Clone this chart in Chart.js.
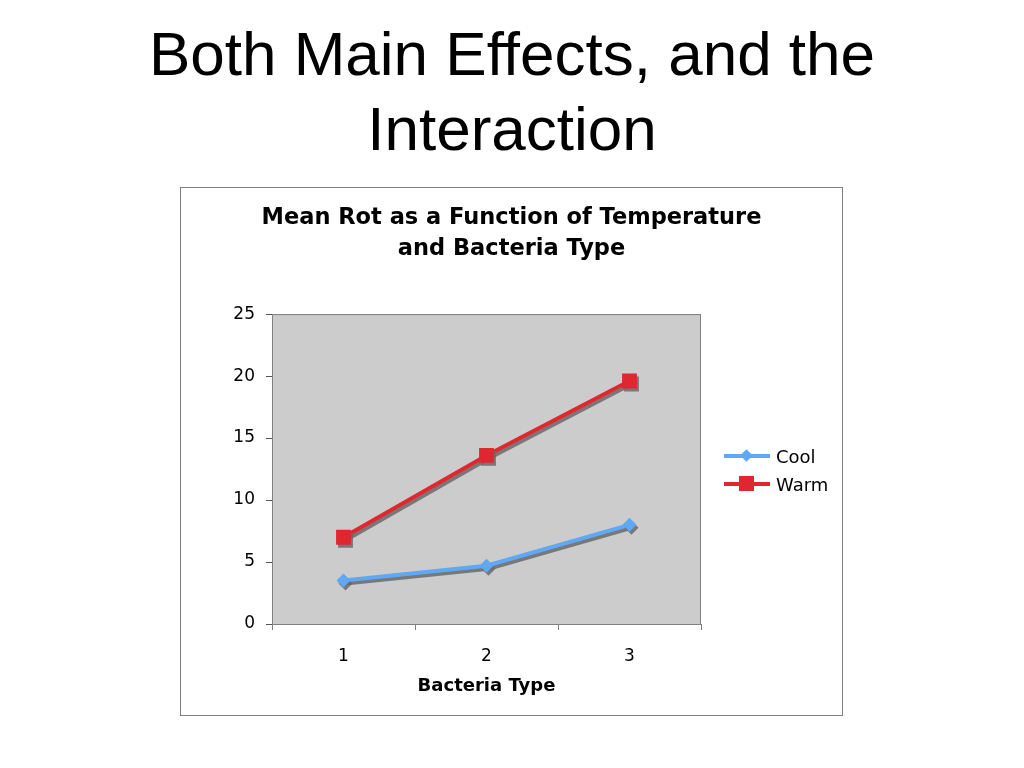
<!DOCTYPE html>
<html>
<head>
<meta charset="utf-8">
<script src="https://cdn.jsdelivr.net/npm/chart.js@4"></script>
<style>
  body { margin: 0; background: #fff; width: 1024px; height: 768px; position: relative; overflow: hidden; }
  #slideTitle {
    position: absolute; left: 0; top: 16px; width: 1024px; text-align: center;
    font-family: "Liberation Sans", Arial, sans-serif; font-size: 62px; line-height: 75px; color: #000;
  }
  #chartBox {
    position: absolute; left: 180px; top: 187px; width: 663px; height: 529px;
    border: 1px solid #808080; box-sizing: border-box;
  }
  #legend {
    position: absolute; left: 724px; top: 442px;
    font-family: "DejaVu Sans", Verdana, sans-serif; font-size: 18px; color: #000;
  }
  .item { height: 28px; display: flex; align-items: center; }
  .sample { position: relative; width: 46px; height: 16px; margin-right: 6px; }
  .sample .ln { position: absolute; left: 0; right: 0; top: 6px; height: 4px; }
  .sample .mk { position: absolute; }
</style>
</head>
<body>
<div id="slideTitle">Both Main Effects, and the<br>Interaction</div>
<div id="chartBox"><canvas id="rotChart" width="661" height="527"></canvas></div>
<div id="legend"></div>
<script>
// Daten
const categories = ["1", "2", "3"];
const coolValues = [3.5, 4.7, 8.0];
const warmValues = [7.0, 13.6, 19.6];
const seriesNames = ["Cool", "Warm"];
const yTicks = [0, 5, 10, 15, 20, 25];

const coolColor = "#5fa8f5";
const warmColor = "#e0262f";

// Hintergrund der Plotfläche
const plotBg = {
    id: "plotBg",
    beforeDatasetsDraw(chart) {
        const a = chart.chartArea;
        const ctx = chart.ctx;
        ctx.save();
        ctx.fillStyle = "#cccccc";
        ctx.fillRect(a.left, a.top, a.right - a.left, a.bottom - a.top);
        ctx.restore();
    }
};

// Schatten unter den Linien wie in Excel
const lineShadow = {
    id: "lineShadow",
    beforeDatasetsDraw(chart) {
        const ctx = chart.ctx;
        ctx.save();
        ctx.shadowColor = "rgba(105,105,105,0.85)";
        ctx.shadowOffsetX = 2;
        ctx.shadowOffsetY = 3;
        ctx.shadowBlur = 0;
    },
    afterDatasetsDraw(chart) {
        chart.ctx.restore();
    }
};

// Rahmen der Plotfläche
const plotBorder = {
    id: "plotBorder",
    afterDraw(chart) {
        const a = chart.chartArea;
        const ctx = chart.ctx;
        ctx.save();
        ctx.strokeStyle = "#808080";
        ctx.lineWidth = 1;
        ctx.strokeRect(a.left + 0.5, a.top + 0.5, a.right - a.left - 1, a.bottom - a.top);
        ctx.restore();
    }
};

const ctx = document.getElementById("rotChart").getContext("2d");
const rotChart = new Chart(ctx, {
    type: "line",
    data: {
        labels: categories,
        datasets: [{
            label: seriesNames[0],
            data: coolValues,
            borderColor: coolColor,
            backgroundColor: coolColor,
            borderWidth: 4,
            pointStyle: "rectRot",
            pointRadius: 7,
            pointBorderWidth: 0,
            tension: 0
        }, {
            label: seriesNames[1],
            data: warmValues,
            borderColor: warmColor,
            backgroundColor: warmColor,
            borderWidth: 4,
            pointStyle: "rect",
            pointRadius: 10.5,
            pointBorderWidth: 0,
            tension: 0
        }]
    },
    options: {
        responsive: false,
        animation: false,
        layout: { padding: { left: 0, right: 0, top: 0, bottom: 8 } },
        plugins: {
            legend: { display: false },
            tooltip: { enabled: false },
            title: {
                display: true,
                text: ["Mean Rot as a Function of Temperature", "and Bacteria Type"],
                color: "#000",
                font: { family: "DejaVu Sans", size: 22.5, weight: "bold", lineHeight: 1.38 },
                padding: { top: 15, bottom: 49 }
            }
        },
        scales: {
            x: {
                offset: true,
                afterFit(scale) {
                    scale.height = 83;
                },
                grid: { offset: true, drawOnChartArea: false, color: "#808080", tickLength: 6 },
                border: { display: true, color: "#808080" },
                ticks: { color: "#000", font: { family: "DejaVu Sans", size: 17 }, padding: 16 },
                title: {
                    display: true,
                    text: "Bacteria Type",
                    color: "#000",
                    font: { family: "DejaVu Sans", size: 18, weight: "bold" },
                    padding: { top: 4, bottom: 10 }
                }
            },
            y: {
                min: 0,
                max: 25,
                afterBuildTicks(scale) {
                    scale.ticks = yTicks.map(v => ({ value: v }));
                },
                afterFit(scale) {
                    scale.width = 91;
                },
                grid: { color: "#555555", tickLength: 6, drawTicks: true },
                border: { display: true, color: "#808080" },
                ticks: { color: "#000", font: { family: "DejaVu Sans", size: 17 }, padding: 11 }
            },
            // leere Achse rechts, hält Platz für die Legende frei
            yRight: {
                position: "right",
                display: true,
                grid: { display: false },
                border: { display: false },
                ticks: { display: false },
                afterFit(scale) {
                    scale.width = 141;
                }
            }
        }
    },
    plugins: [plotBg, lineShadow, plotBorder]
});

// Legende als HTML, Linie mit Marker
const legendEl = document.getElementById("legend");
rotChart.data.datasets.forEach(ds => {
    const item = document.createElement("div");
    item.className = "item";
    const sample = document.createElement("span");
    sample.className = "sample";
    const ln = document.createElement("span");
    ln.className = "ln";
    ln.style.background = ds.borderColor;
    const mk = document.createElement("span");
    mk.className = "mk";
    mk.style.background = ds.borderColor;
    if (ds.pointStyle === "rect") {
        mk.style.width = "15px"; mk.style.height = "15px";
        mk.style.left = "15px"; mk.style.top = "0px";
    } else {
        mk.style.width = "9px"; mk.style.height = "9px";
        mk.style.left = "18px"; mk.style.top = "3px";
        mk.style.transform = "rotate(45deg)";
    }
    sample.appendChild(ln);
    sample.appendChild(mk);
    item.appendChild(sample);
    item.appendChild(document.createTextNode(ds.label));
    legendEl.appendChild(item);
});
</script>
</body>
</html>
